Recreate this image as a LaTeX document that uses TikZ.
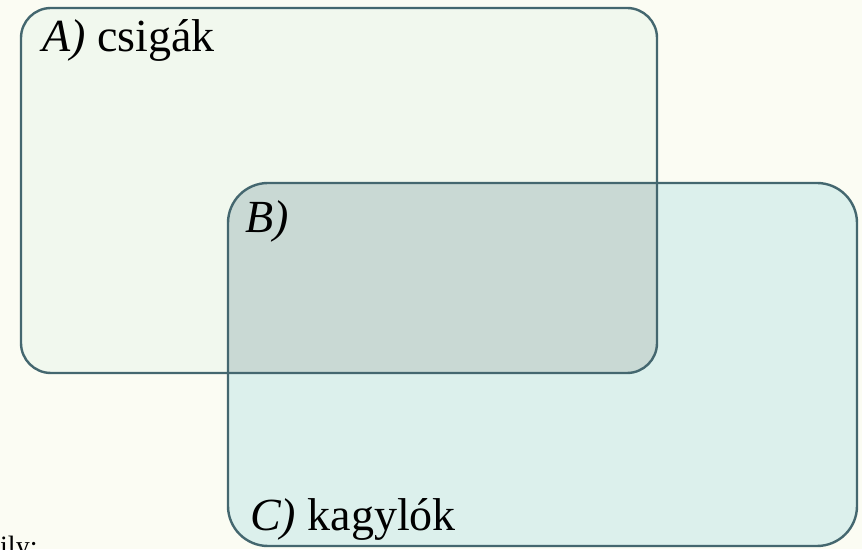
\documentclass[tikz,border=0pt]{standalone}
\usepackage{fontspec}
\setmainfont{Liberation Serif}
\definecolor{bgc}{HTML}{FBFCF3}
\definecolor{afill}{HTML}{F1F8EE}
\definecolor{cfill}{HTML}{DCF0EC}
\definecolor{bfill}{HTML}{C9D9D4}
\definecolor{edge}{HTML}{44676F}
\begin{document}
\begin{tikzpicture}[x=1pt,y=1pt,
  setbox/.style={line width=2.4pt, draw=edge},
  lbl/.style={anchor=base west, inner sep=0pt, font=\fontsize{46}{50}\selectfont}]
\useasboundingbox (0,0) rectangle (862,549);
\clip (0,0) rectangle (862,549);
\fill[bgc] (0,0) rectangle (862,549);
\fill[afill, rounded corners=30pt] (21,176) rectangle (657,541);
\fill[cfill, rounded corners=40pt] (228,3) rectangle (857,366);
\begin{scope}
  \clip[rounded corners=30pt] (21,176) rectangle (657,541);
  \fill[bfill, rounded corners=40pt] (228,3) rectangle (857,366);
\end{scope}
\draw[setbox, rounded corners=30pt] (21,176) rectangle (657,541);
\draw[setbox, rounded corners=40pt] (228,3) rectangle (857,366);
\node[lbl] (a) at (42,497) {\textit{A)} csigák};
\node[lbl] (b) at (245,316) {\textit{B)}};
\node[lbl] (c) at (250,19) {\textit{C)} kagylók};
\node[lbl, font=\fontsize{28}{30}\selectfont] (d) at (0,-6) {ily:};
\end{tikzpicture}
\end{document}
